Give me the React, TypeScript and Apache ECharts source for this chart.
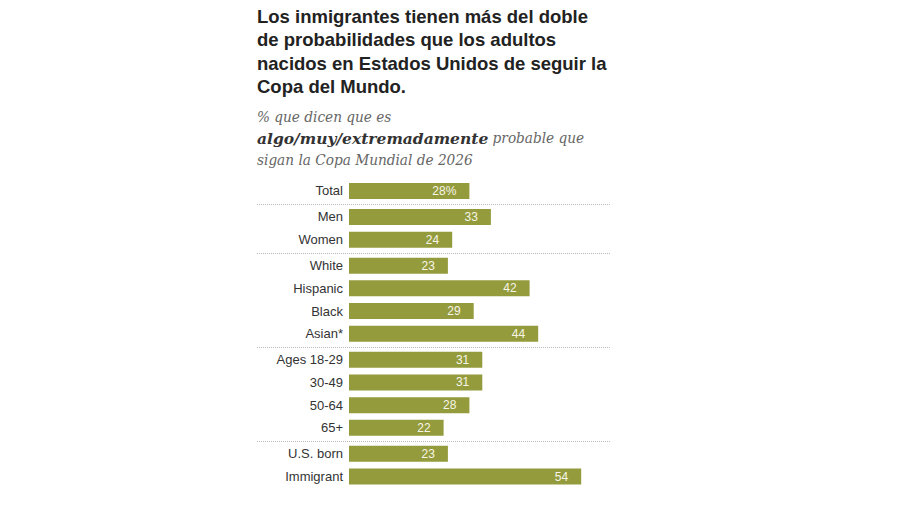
import React, { useEffect, useRef } from "react";
import * as echarts from "echarts";

const titleText =
  "Los inmigrantes tienen más del doble\nde probabilidades que los adultos\nnacidos en Estados Unidos de seguir la\nCopa del Mundo.";
const subtitleLine1 = "% que dicen que es";
const subtitleBold = "algo/muy/extremadamente";
const subtitleRest = " probable que";
const subtitleLine3 = "sigan la Copa Mundial de 2026";

const totalCats = ["Total"];
const totalVals = [28];
const genderCats = ["Men", "Women"];
const genderVals = [33, 24];
const raceCats = ["White", "Hispanic", "Black", "Asian*"];
const raceVals = [23, 42, 29, 44];
const ageCats = ["Ages 18-29", "30-49", "50-64", "65+"];
const ageVals = [31, 31, 28, 22];
const nativityCats = ["U.S. born", "Immigrant"];
const nativityVals = [23, 54];

const groups = [
  { cats: totalCats, vals: totalVals, pct: true },
  { cats: genderCats, vals: genderVals, pct: false },
  { cats: raceCats, vals: raceVals, pct: false },
  { cats: ageCats, vals: ageVals, pct: false },
  { cats: nativityCats, vals: nativityVals, pct: false },
];

const BAR_COLOR = "#949b3c";

export default function App() {
  const ref = useRef<HTMLDivElement>(null);
  useEffect(() => {
    if (!ref.current) return;
    const chart = echarts.init(ref.current, null, { renderer: "svg" });
    const rowH = 22.7;
    const gap = 3.3;
    const left = 349;
    const gridW = 258;
    let top = 179.6;
    const grids: any[] = [];
    const xAxes: any[] = [];
    const yAxes: any[] = [];
    const series: any[] = [];
    const seps: any[] = [];
    groups.forEach((g, i) => {
      const h = rowH * g.cats.length;
      grids.push({ left, top, width: gridW, height: h });
      xAxes.push({
        type: "value",
        gridIndex: i,
        min: 0,
        max: 60,
        show: false,
      });
      yAxes.push({
        type: "category",
        gridIndex: i,
        data: g.cats,
        inverse: true,
        axisLine: { show: false },
        axisTick: { show: false },
        splitLine: { show: false },
        axisLabel: {
          margin: 6,
          color: "#333333",
          fontFamily: "Liberation Sans",
          fontSize: 13,
        },
      });
      series.push({
        type: "bar",
        xAxisIndex: i,
        yAxisIndex: i,
        data: g.vals,
        barWidth: 16,
        itemStyle: { color: BAR_COLOR },
        label: {
          show: true,
          position: "insideRight",
          distance: 13,
          color: "#f6f6e8",
          fontFamily: "Liberation Sans",
          fontSize: 12,
          formatter: (p: any) => (g.pct ? p.value + "%" : String(p.value)),
        },
      });
      top += h;
      if (i < groups.length - 1) {
        const y = Math.round(top + gap / 2) + 0.5;
        seps.push({
          type: "line",
          shape: { x1: 257, y1: y, x2: 610, y2: y },
          style: { stroke: "#b8b8b8", lineWidth: 1, lineDash: [1, 1] },
          silent: true,
        });
      }
      top += gap;
    });

    chart.setOption({
      animation: false,
      backgroundColor: "#ffffff",
      title: [
        {
          text: titleText,
          left: 257,
          top: 5,
          padding: 0,
          textStyle: {
            fontFamily: "Liberation Sans",
            fontWeight: "bold",
            fontSize: 18.5,
            lineHeight: 23.3,
            color: "#222222",
          },
        },
        {
          text:
            "{i|" + subtitleLine1 + "}\n{b|" + subtitleBold + "}{i|" + subtitleRest + "}\n{i|" + subtitleLine3 + "}",
          left: 257,
          top: 106,
          padding: 0,
          textStyle: {
            rich: {
              i: {
                fontFamily: "DejaVu Serif Condensed, DejaVu Serif",
                fontStyle: "italic",
                fontWeight: "normal",
                fontSize: 15.2,
                lineHeight: 21.5,
                color: "#666666",
              },
              b: {
                fontFamily: "DejaVu Serif",
                fontStyle: "italic",
                fontWeight: "bold",
                fontSize: 15.5,
                lineHeight: 21.5,
                color: "#333333",
              },
            },
          },
        },
      ],
      grid: grids,
      xAxis: xAxes,
      yAxis: yAxes,
      series,
      graphic: seps,
    });
    return () => chart.dispose();
  }, []);
  return (
    <div
      ref={ref}
      style={{ position: "fixed", left: 0, top: 0, width: 900, height: 505 }}
    />
  );
}
